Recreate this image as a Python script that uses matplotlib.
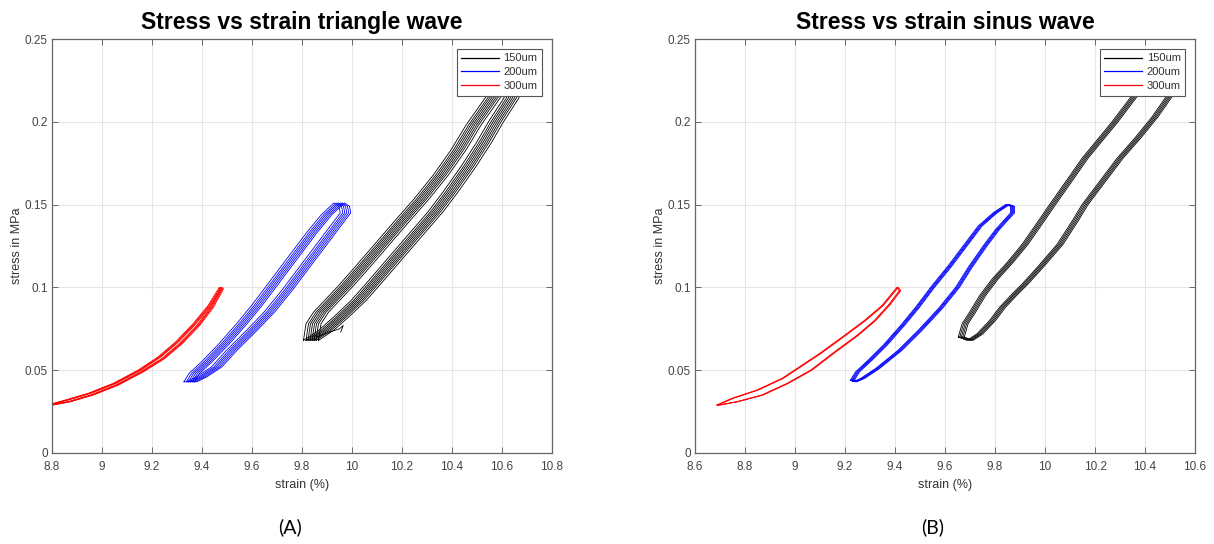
import matplotlib
matplotlib.use("Agg")
import matplotlib.pyplot as plt
import numpy as np
from matplotlib.ticker import FormatStrFormatter

# ---- (A) triangle wave: loop branches (strain %, stress MPa)
tri_300_up_x = [8.80, 8.86, 8.95, 9.05, 9.15, 9.23, 9.30, 9.37, 9.43, 9.475]
tri_300_up_y = [0.0295, 0.032, 0.036, 0.042, 0.050, 0.058, 0.067, 0.078, 0.089, 0.100]
tri_300_dn_x = [9.48, 9.44, 9.385, 9.315, 9.245, 9.16, 9.06, 8.96, 8.87, 8.80]
tri_300_dn_y = [0.099, 0.088, 0.077, 0.066, 0.057, 0.049, 0.041, 0.035, 0.031, 0.029]

tri_200_up_x = [9.35, 9.37, 9.42, 9.49, 9.56, 9.62, 9.66, 9.70, 9.77, 9.84, 9.90, 9.95]
tri_200_up_y = [0.043, 0.048, 0.055, 0.066, 0.078, 0.089, 0.097, 0.105, 0.119, 0.133, 0.144, 0.151]
tri_200_dn_x = [9.97, 9.975, 9.92, 9.85, 9.78, 9.74, 9.67, 9.60, 9.52, 9.46, 9.40, 9.36]
tri_200_dn_y = [0.149, 0.145, 0.134, 0.120, 0.106, 0.098, 0.085, 0.074, 0.062, 0.052, 0.046, 0.043]

tri_150_up_x = [9.84, 9.85, 9.88, 9.93, 9.98, 10.05, 10.13, 10.21, 10.28, 10.36, 10.43, 10.49, 10.56, 10.62]
tri_150_up_y = [0.068, 0.078, 0.085, 0.093, 0.101, 0.113, 0.127, 0.141, 0.153, 0.168, 0.183, 0.198, 0.213, 0.226]
tri_150_dn_x = [10.68, 10.64, 10.58, 10.53, 10.47, 10.40, 10.34, 10.26, 10.18, 10.10, 10.03, 9.96, 9.90, 9.86]
tri_150_dn_y = [0.226, 0.214, 0.200, 0.187, 0.173, 0.158, 0.146, 0.132, 0.118, 0.104, 0.092, 0.082, 0.074, 0.070]
tri_150_tail_x = [9.86, 9.91, 9.95, 9.965, 9.955]
tri_150_tail_y = [0.070, 0.073, 0.075, 0.077, 0.073]

# ---- (B) sinus wave
sin_300_up_x = [8.69, 8.75, 8.85, 8.95, 9.00, 9.10, 9.20, 9.28, 9.35, 9.41]
sin_300_up_y = [0.029, 0.033, 0.038, 0.045, 0.050, 0.060, 0.071, 0.080, 0.089, 0.100]
sin_300_dn_x = [9.42, 9.38, 9.32, 9.25, 9.16, 9.065, 8.97, 8.87, 8.77, 8.70]
sin_300_dn_y = [0.098, 0.090, 0.080, 0.071, 0.061, 0.050, 0.042, 0.035, 0.031, 0.029]

sin_200_up_x = [9.23, 9.25, 9.30, 9.36, 9.43, 9.49, 9.55, 9.62, 9.68, 9.74, 9.80, 9.85]
sin_200_up_y = [0.044, 0.049, 0.056, 0.065, 0.077, 0.088, 0.100, 0.113, 0.125, 0.137, 0.145, 0.150]
sin_200_dn_x = [9.87, 9.87, 9.84, 9.81, 9.76, 9.70, 9.65, 9.58, 9.50, 9.42, 9.33, 9.27, 9.24]
sin_200_dn_y = [0.149, 0.145, 0.140, 0.135, 0.125, 0.112, 0.100, 0.087, 0.074, 0.062, 0.051, 0.045, 0.043]

sin_150_up_x = [9.665, 9.68, 9.71, 9.75, 9.80, 9.86, 9.92, 9.98, 10.03, 10.10, 10.16, 10.22, 10.28, 10.34, 10.40]
sin_150_up_y = [0.070, 0.078, 0.085, 0.095, 0.105, 0.115, 0.126, 0.139, 0.150, 0.165, 0.178, 0.189, 0.200, 0.212, 0.224]
sin_150_dn_x = [10.53, 10.50, 10.44, 10.37, 10.30, 10.22, 10.16, 10.12, 10.06, 9.98, 9.92, 9.88, 9.83, 9.79, 9.74, 9.70]
sin_150_dn_y = [0.224, 0.216, 0.203, 0.190, 0.178, 0.162, 0.150, 0.140, 0.126, 0.112, 0.102, 0.096, 0.088, 0.080, 0.072, 0.068]

# cycle-to-cycle strain drift (band width) per loop
tri_300_shift = [-0.006, -0.002, 0.002, 0.006]
tri_200_shift = [-0.022, -0.012, -0.004, 0.004, 0.012, 0.02]
tri_150_shift = [-0.034, -0.024, -0.016, -0.008, 0.0, 0.008, 0.016, 0.026]
sin_300_shift = [-0.003, 0.0, 0.003]
sin_200_shift = [-0.008, -0.004, 0.0, 0.004, 0.008]
sin_150_shift = [-0.012, -0.006, 0.0, 0.006, 0.012]

labels = ["150um", "200um", "300um"]
colors = ["black", "blue", "red"]


def loop(ax, upx, upy, dnx, dny, shifts, color, label):
    x = np.array(upx + dnx + upx[:1])
    y = np.array(upy + dny + upy[:1])
    for i, s in enumerate(shifts):
        ax.plot(x + s, y, color=color, lw=0.6, label=label if i == 0 else "_nolegend_")


fig = plt.figure(figsize=(12.14, 5.44), dpi=100)
plt.rcParams['font.family'] = ['Liberation Sans', 'DejaVu Sans']

ax1 = fig.add_axes([0.0428, 0.1673, 0.4119, 0.761])
ax2 = fig.add_axes([0.5725, 0.1673, 0.4119, 0.761])

loop(ax1, tri_150_up_x, tri_150_up_y, tri_150_dn_x, tri_150_dn_y, tri_150_shift, colors[0], labels[0])
ax1.plot(tri_150_tail_x, tri_150_tail_y, color="black", lw=0.6)
loop(ax1, tri_200_up_x, tri_200_up_y, tri_200_dn_x, tri_200_dn_y, tri_200_shift, colors[1], labels[1])
loop(ax1, tri_300_up_x, tri_300_up_y, tri_300_dn_x, tri_300_dn_y, tri_300_shift, colors[2], labels[2])

loop(ax2, sin_150_up_x, sin_150_up_y, sin_150_dn_x, sin_150_dn_y, sin_150_shift, colors[0], labels[0])
loop(ax2, sin_200_up_x, sin_200_up_y, sin_200_dn_x, sin_200_dn_y, sin_200_shift, colors[1], labels[1])
loop(ax2, sin_300_up_x, sin_300_up_y, sin_300_dn_x, sin_300_dn_y, sin_300_shift, colors[2], labels[2])

for ax, title, xmin, tag in [(ax1, "Stress vs strain triangle wave", 8.8, "(A)"),
                             (ax2, "Stress vs strain sinus wave", 8.6, "(B)")]:
    ax.set_xlim(xmin, xmin + 2.0)
    ax.set_ylim(0, 0.25)
    ax.set_xticks(np.arange(xmin, xmin + 2.01, 0.2))
    ax.set_yticks([0, 0.05, 0.1, 0.15, 0.2, 0.25])
    ax.xaxis.set_major_formatter(FormatStrFormatter('%g'))
    ax.yaxis.set_major_formatter(FormatStrFormatter('%g'))
    ax.grid(True, color="#e6e6e6", lw=0.8)
    ax.set_axisbelow(True)
    ax.tick_params(direction="in", top=True, right=True, length=4, width=0.6,
                   colors="#555555", labelcolor="#444444", labelsize=8.5)
    ax.tick_params(axis="x", pad=6)
    ax.tick_params(axis="y", pad=3)
    for sp in ax.spines.values():
        sp.set_color("#666666")
        sp.set_linewidth(0.9)
    ax.set_xlabel("strain (%)", fontsize=9, color="#333333", labelpad=4)
    ax.set_ylabel("stress in MPa", fontsize=9, color="#333333", labelpad=1)
    ax.set_title(title, fontsize=16.5, fontweight="bold", pad=7)
    leg = ax.legend(loc="upper right", fontsize=8, handlelength=3.4, frameon=True,
                    fancybox=False, framealpha=1, edgecolor="#555555",
                    borderaxespad=0.9, labelspacing=0.35, borderpad=0.4,
                    handletextpad=0.4)
    leg.get_frame().set_linewidth(0.8)
    for ln in leg.get_lines():
        ln.set_linewidth(0.9)
    for t in leg.get_texts():
        t.set_color("#333333")
    bb = ax.get_position()
    fig.text(bb.x0 + bb.width / 2 - 0.01, 0.03, tag, fontsize=14,
             family=['Lato', 'DejaVu Sans'], ha="center", va="center")

fig.savefig("out.png", dpi=100)
